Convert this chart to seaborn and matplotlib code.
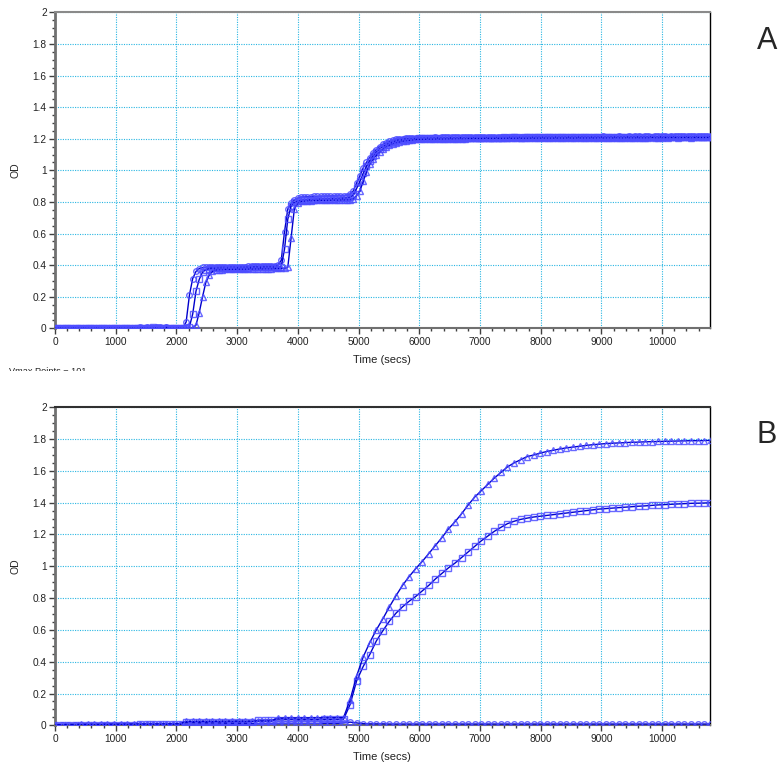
import numpy as np
import pandas as pd
import matplotlib
matplotlib.use("Agg")
import matplotlib.pyplot as plt
from matplotlib.ticker import MultipleLocator, FuncFormatter
from matplotlib.patches import Rectangle
import seaborn as sns

# ---------------------------------------------------------------------------
# Data: optical density readings, evenly sampled in time
# ---------------------------------------------------------------------------
STEP_A = 54    # seconds between readings, run A
STEP_B = 108   # seconds between readings, run B

od_a_circle = [
    0, 0, 0, 0, 0, 0, 0, 0, 0, 0,
    0, 0, 0, 0, 0, 0, 0, 0, 0, 0,
    0, 0, 0, 0, 0, 0, 0.008, 0, 0.008, 0,
    0, 0.008, 0.008, 0, 0.006, 0, 0, 0, 0,
    0.005, 0.04, 0.21, 0.315, 0.36, 0.378, 0.385,
    0.386, 0.387, 0.387, 0.388, 0.388, 0.389, 0.389, 0.39, 0.39, 0.39,
    0.391, 0.391, 0.391, 0.392, 0.392, 0.392, 0.393, 0.393, 0.393, 0.394,
    0.394, 0.395,
    0.40, 0.43, 0.61, 0.755, 0.79, 0.812, 0.824, 0.83,
    0.832, 0.833, 0.834, 0.835, 0.835, 0.836, 0.836, 0.837, 0.837, 0.838,
    0.838, 0.839, 0.84, 0.84,
    0.85, 0.87, 0.92, 0.965, 1.015, 1.05, 1.08, 1.11, 1.13, 1.15,
    1.165, 1.175, 1.183, 1.19, 1.195, 1.198, 1.2, 1.202, 1.203, 1.204, 1.205,
    1.206, 1.206, 1.207, 1.207, 1.207, 1.208, 1.207, 1.208, 1.208, 1.208,
    1.209, 1.208, 1.209, 1.209, 1.209, 1.21, 1.209, 1.21, 1.21, 1.21,
    1.21, 1.21, 1.211, 1.21, 1.211, 1.211, 1.211, 1.211, 1.212, 1.211,
    1.211, 1.212, 1.212, 1.212, 1.211, 1.212, 1.212, 1.212, 1.212, 1.213,
    1.212, 1.212, 1.213, 1.212, 1.213, 1.213, 1.212, 1.213, 1.213, 1.213,
    1.213, 1.213, 1.212, 1.213, 1.213, 1.213, 1.214, 1.213, 1.213, 1.213,
    1.213, 1.214, 1.213, 1.213, 1.214, 1.213, 1.214, 1.214, 1.213, 1.214,
    1.214, 1.213, 1.214, 1.214, 1.214, 1.214, 1.213, 1.214, 1.214, 1.214,
    1.214, 1.214, 1.214, 1.215, 1.214, 1.214, 1.214, 1.214, 1.215, 1.214,
]

od_a_square = [
    0, 0, 0, 0, 0, 0, 0, 0, 0, 0,
    0, 0, 0, 0, 0, 0, 0, 0, 0, 0,
    0, 0, 0, 0, 0, 0, 0, 0, 0, 0,
    0.006, 0, 0, 0, 0, 0, 0, 0, 0, 0,
    0,
    0.01, 0.09, 0.235, 0.31, 0.355, 0.372, 0.378,
    0.379, 0.38, 0.38, 0.381, 0.381, 0.382, 0.382, 0.383, 0.383, 0.383,
    0.384, 0.384, 0.385, 0.385, 0.385, 0.386, 0.386, 0.387, 0.387, 0.388,
    0.388,
    0.39, 0.5, 0.69, 0.775, 0.797, 0.805, 0.81,
    0.812, 0.813, 0.814, 0.815, 0.816, 0.817, 0.818, 0.819, 0.82, 0.821,
    0.822, 0.823, 0.824, 0.825,
    0.83, 0.845, 0.885, 0.93, 0.98, 1.025, 1.06, 1.09, 1.115, 1.135,
    1.15, 1.162, 1.172, 1.18, 1.186, 1.19, 1.194, 1.197, 1.199, 1.2, 1.201,
    1.202, 1.202, 1.203, 1.203, 1.203, 1.204, 1.204, 1.204, 1.205, 1.204,
    1.205, 1.205, 1.205, 1.206, 1.205, 1.206, 1.206, 1.206, 1.206, 1.207,
    1.206, 1.207, 1.207, 1.207, 1.207, 1.207, 1.208, 1.207, 1.208, 1.208,
    1.208, 1.207, 1.208, 1.208, 1.208, 1.208, 1.209, 1.208, 1.208, 1.209,
    1.208, 1.209, 1.209, 1.208, 1.209, 1.209, 1.209, 1.209, 1.209, 1.209,
    1.21, 1.209, 1.209, 1.209, 1.21, 1.209, 1.21, 1.209, 1.21, 1.21,
    1.209, 1.21, 1.21, 1.21, 1.21, 1.209, 1.21, 1.21, 1.21, 1.21,
    1.21, 1.21, 1.211, 1.21, 1.21, 1.21, 1.21, 1.211, 1.21, 1.21,
    1.211, 1.21, 1.21, 1.211, 1.211, 1.21, 1.211, 1.211, 1.21, 1.211,
]

od_a_triangle = [
    0, 0, 0, 0, 0, 0, 0, 0, 0, 0,
    0, 0, 0, 0, 0, 0, 0, 0, 0, 0,
    0, 0, 0, 0, 0, 0, 0, 0, 0, 0,
    0, 0, 0, 0, 0.006, 0, 0, 0, 0, 0,
    0, 0, 0,
    0.02, 0.1, 0.2, 0.29, 0.335, 0.36, 0.37,
    0.372, 0.372, 0.373, 0.373, 0.374, 0.374, 0.375, 0.375, 0.375, 0.376,
    0.376, 0.377, 0.377, 0.377, 0.378, 0.378, 0.378, 0.379, 0.379, 0.38,
    0.38,
    0.385, 0.57, 0.755, 0.792, 0.803, 0.806,
    0.808, 0.808, 0.809, 0.809, 0.81, 0.81, 0.811, 0.811, 0.812, 0.812,
    0.813, 0.813, 0.814, 0.815,
    0.82, 0.84, 0.87, 0.93, 0.99, 1.04, 1.07, 1.095, 1.115, 1.135,
    1.15, 1.16, 1.168, 1.175, 1.18, 1.185, 1.188, 1.19, 1.193, 1.195,
    1.196, 1.197, 1.197, 1.198, 1.198, 1.199, 1.199, 1.199, 1.2, 1.2,
    1.2, 1.201, 1.201, 1.201, 1.201, 1.202, 1.202, 1.202, 1.202, 1.202,
    1.203, 1.203, 1.203, 1.203, 1.203, 1.203, 1.204, 1.204, 1.203, 1.204,
    1.204, 1.204, 1.204, 1.204, 1.205, 1.204, 1.205, 1.205, 1.205, 1.205,
    1.205, 1.205, 1.205, 1.206, 1.205, 1.206, 1.206, 1.205, 1.206, 1.206,
    1.206, 1.206, 1.206, 1.206, 1.206, 1.207, 1.206, 1.206, 1.207, 1.206,
    1.207, 1.207, 1.206, 1.207, 1.207, 1.207, 1.207, 1.207, 1.207, 1.207,
    1.207, 1.208, 1.207, 1.207, 1.207, 1.208, 1.207, 1.208, 1.208, 1.207,
    1.208, 1.208, 1.208, 1.207, 1.208, 1.208, 1.208, 1.208, 1.208, 1.208,
]

od_b_triangle = [
    0.004, 0.004, 0.005, 0.005, 0.006, 0.006, 0.006, 0.006, 0.007, 0.007,
    0.007, 0.007, 0.008, 0.008, 0.008, 0.008, 0.009, 0.009, 0.009, 0.01,
    0.024, 0.024, 0.025, 0.025, 0.025, 0.025, 0.026, 0.026, 0.026, 0.026,
    0.026, 0.027, 0.027, 0.027,
    0.045, 0.045, 0.046, 0.046, 0.046, 0.047, 0.047, 0.047, 0.047, 0.048,
    0.048,
    0.16, 0.31, 0.43, 0.52, 0.6, 0.67, 0.745, 0.815, 0.88, 0.935,
    0.985, 1.03, 1.08, 1.13, 1.18, 1.235, 1.28, 1.33, 1.385, 1.435,
    1.475, 1.515, 1.555, 1.59, 1.625, 1.65, 1.67, 1.69, 1.70, 1.712,
    1.722, 1.73, 1.738, 1.745, 1.75, 1.755, 1.76, 1.765, 1.768, 1.772,
    1.774, 1.776, 1.778, 1.78, 1.781, 1.783, 1.784, 1.785, 1.786, 1.787,
    1.788, 1.789, 1.79, 1.79, 1.791, 1.792,
]

od_b_square = [
    0.002, 0.002, 0.003, 0.003, 0.003, 0.004, 0.004, 0.004, 0.004, 0.005,
    0.005, 0.005, 0.005, 0.006, 0.006, 0.006, 0.006, 0.007, 0.007, 0.007,
    0.018, 0.018, 0.019, 0.019, 0.02, 0.02, 0.02, 0.021, 0.021, 0.021,
    0.022,
    0.033, 0.033, 0.034, 0.034, 0.035, 0.035, 0.035, 0.036, 0.036, 0.036,
    0.037, 0.037, 0.038, 0.038,
    0.13, 0.28, 0.37, 0.445, 0.53, 0.595, 0.655, 0.705, 0.745, 0.78,
    0.81, 0.845, 0.88, 0.92, 0.955, 0.99, 1.02, 1.055, 1.09, 1.125,
    1.16, 1.19, 1.22, 1.245, 1.268, 1.283, 1.295, 1.303, 1.31, 1.315,
    1.32, 1.325, 1.33, 1.335, 1.34, 1.345, 1.35, 1.355, 1.36, 1.363,
    1.366, 1.369, 1.372, 1.375, 1.378, 1.38, 1.383, 1.386, 1.388, 1.39,
    1.392, 1.394, 1.396, 1.397, 1.398, 1.40,
]

od_b_circle = [
    0.0, 0.0, 0.0, 0.001, 0.001, 0.001, 0.001, 0.002, 0.002, 0.002,
    0.002, 0.002, 0.003, 0.003, 0.003, 0.003, 0.003, 0.004, 0.004, 0.004,
    0.008, 0.008, 0.009, 0.009, 0.009, 0.009, 0.01, 0.01, 0.01, 0.01,
    0.01, 0.01, 0.011, 0.011, 0.011, 0.011, 0.011, 0.012, 0.012, 0.012,
    0.012, 0.012, 0.012, 0.012,
    0.015, 0.02, 0.015,
    0.01, 0.009, 0.009, 0.009, 0.008, 0.008, 0.008, 0.008, 0.008, 0.008,
    0.008, 0.008, 0.008, 0.008, 0.008, 0.008, 0.008, 0.008, 0.008, 0.008,
    0.008, 0.008, 0.008, 0.008, 0.008, 0.008, 0.008, 0.008, 0.008, 0.008,
    0.008, 0.008, 0.008, 0.008, 0.008, 0.008, 0.008, 0.008, 0.008, 0.008,
    0.008, 0.008, 0.008, 0.008, 0.008, 0.008, 0.008, 0.008, 0.008, 0.008,
    0.008, 0.008, 0.008, 0.008,
]

X_MAX = 10780
Y_MAX = 2.0

LINE_COLOR = "#0000cc"
MARKER_EDGE = (0.3, 0.3, 1.0, 0.85)
GRID_COLOR = "#29b6e2"

# ---------------------------------------------------------------------------
sns.set_style("white")
plt.rcParams["font.family"] = ["Liberation Sans", "DejaVu Sans"]


def to_frame(step, series):
    rows = []
    for name, values in series:
        for i, v in enumerate(values):
            rows.append((name, i * step, v))
    return pd.DataFrame(rows, columns=["series", "time", "od"])


def draw_panel(ax, df, markers, top_spine_color):
    for name, marker, size in markers:
        sub = df[df["series"] == name]
        sns.lineplot(
            data=sub, x="time", y="od", ax=ax, sort=False, errorbar=None,
            estimator=None, legend=False, color=LINE_COLOR, linewidth=1.0,
            marker=marker, markersize=size, markerfacecolor="none",
            markeredgecolor=MARKER_EDGE, markeredgewidth=1.0, zorder=3,
        )
    ax.set_xlim(0, X_MAX)
    ax.set_ylim(0, Y_MAX)
    ax.xaxis.set_major_locator(MultipleLocator(1000))
    ax.xaxis.set_minor_locator(MultipleLocator(200))
    ax.yaxis.set_major_locator(MultipleLocator(0.2))
    ax.yaxis.set_minor_locator(MultipleLocator(0.05))
    ax.yaxis.set_major_formatter(FuncFormatter(lambda v, p: f"{v:g}"))
    ax.xaxis.set_major_formatter(FuncFormatter(lambda v, p: f"{v:g}"))
    ax.grid(True, which="major", color=GRID_COLOR, linestyle=(0, (1, 1.2)),
            linewidth=0.8)
    ax.set_axisbelow(True)
    ax.tick_params(axis="both", which="both", direction="out",
                   bottom=True, left=True, top=False, right=False,
                   color="#404040", labelcolor="#222222")
    ax.tick_params(axis="both", which="major", length=4, width=1,
                   labelsize=7.3, pad=2)
    ax.tick_params(axis="both", which="minor", length=2.5, width=1)
    ax.spines["left"].set_color("#707070")
    ax.spines["left"].set_linewidth(2)
    ax.spines["bottom"].set_color("#707070")
    ax.spines["bottom"].set_linewidth(1.5)
    ax.spines["top"].set_color(top_spine_color)
    ax.spines["top"].set_linewidth(1.5)
    ax.spines["right"].set_color("#000000")
    ax.spines["right"].set_linewidth(1.0)
    ax.set_xlabel("Time (secs)", fontsize=8, color="#222222")
    ax.set_ylabel("OD", fontsize=7.5, color="#222222")
    ax.xaxis.set_label_coords(0.5, -0.085)
    ax.yaxis.set_label_coords(-0.052, 0.5)


W, H = 779, 764
fig = plt.figure(figsize=(W / 100, H / 100), dpi=100)

ax_a = fig.add_axes([55 / W, 1 - 328.3 / H, 654.5 / W, 316 / H])
ax_b = fig.add_axes([55 / W, 1 - 725.3 / H, 654.5 / W, 318 / H])

df_a = to_frame(STEP_A, [("circle", od_a_circle), ("square", od_a_square),
                         ("triangle", od_a_triangle)])
df_b = to_frame(STEP_B, [("circle", od_b_circle), ("square", od_b_square),
                         ("triangle", od_b_triangle)])

marks = [("circle", "o", 4.0), ("square", "s", 3.8), ("triangle", "^", 4.2)]
draw_panel(ax_a, df_a, marks, "#8a8a8a")
draw_panel(ax_b, df_b, marks, "#303030")

# panel letters
fig.text(767 / W, 1 - 41 / H, "A", fontsize=22, ha="center", va="center")
fig.text(767 / W, 1 - 435 / H, "B", fontsize=22, ha="center", va="center")

# status line under the first panel, partly hidden by the second
fig.text(9 / W, 1 - 366.5 / H, "Vmax Points = 101", fontsize=6.6,
         ha="left", va="top", color="#222222", zorder=2)
fig.add_artist(Rectangle((0, 1 - 392 / H), 130 / W, 20.8 / H,
                         transform=fig.transFigure, facecolor="white",
                         edgecolor="none", zorder=5))

fig.savefig("out.png", dpi=100)
